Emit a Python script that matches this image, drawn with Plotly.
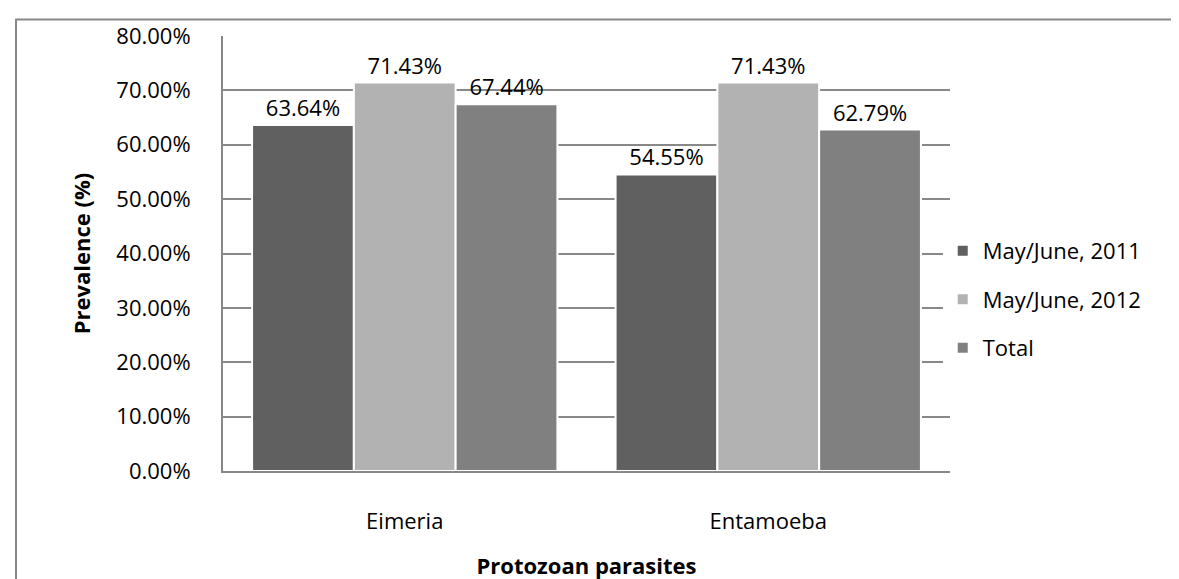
import plotly.graph_objects as go

categories = ["Eimeria", "Entamoeba"]
series_names = ["May/June, 2011", "May/June, 2012", "Total"]
s2011 = [0.6364, 0.5455]
s2012 = [0.7143, 0.7143]
total = [0.6744, 0.6279]
colors = ["#606060", "#B2B2B2", "#808080"]
y_ticks = [0, 0.1, 0.2, 0.3, 0.4, 0.5, 0.6, 0.7, 0.8]

FONT = "Open Sans"
FS = 22
fig = go.Figure()
for i, (name, vals, col) in enumerate(zip(series_names, [s2011, s2012, total], colors)):
    fig.add_trace(go.Bar(
        x=categories, y=vals, name=name, legendgroup=f"g{i}",
        marker=dict(color=col, line=dict(color="white", width=2)),
        text=[f"{v*100:.2f}%" for v in vals],
        textposition="outside", cliponaxis=False,
        textfont=dict(family=FONT, size=FS, color="black"),
    ))

L, R, T, B = 215, 942, 24, 470
W, H = 1179, 579
pw, ph = R - L, B - T

fig.update_layout(
    width=W, height=H,
    margin=dict(l=L, r=W - R, t=T, b=H - B),
    paper_bgcolor="white", plot_bgcolor="white",
    barmode="group", bargap=0.16, bargroupgap=0,
    font=dict(family=FONT, size=FS, color="black"),
    legend=dict(x=0.99, y=(B - 294) / ph, xanchor="left", yanchor="middle",
                font=dict(family=FONT, size=FS), tracegroupgap=17,
                traceorder="grouped", itemwidth=30),
    showlegend=True,
    xaxis=dict(showline=True, linecolor="#888888", linewidth=2, ticks="",
               ticklabelstandoff=30, tickfont=dict(family=FONT, size=FS),
               title=dict(text="<b>Protozoan parasites</b>", standoff=24,
                          font=dict(family=FONT, size=FS))),
    yaxis=dict(range=[0, 0.8], tickvals=y_ticks, tickformat=".2%",
               showgrid=True, gridcolor="#888888", gridwidth=2,
               showline=True, linecolor="#888888", linewidth=2,
               zeroline=False, ticks="", ticklabelstandoff=26,
               tickfont=dict(family=FONT, size=FS),
               title=dict(text="<b>Prevalence (%)</b>", standoff=20,
                          font=dict(family=FONT, size=FS))),
    shapes=[dict(type="rect", xref="paper", yref="paper",
                 x0=(8 - L) / pw, x1=(W + 20 - L) / pw,
                 y0=(B - (H + 20)) / ph, y1=(B - 7) / ph,
                 line=dict(color="#888888", width=2), layer="below")],
)
fig.write_html("out.html")
